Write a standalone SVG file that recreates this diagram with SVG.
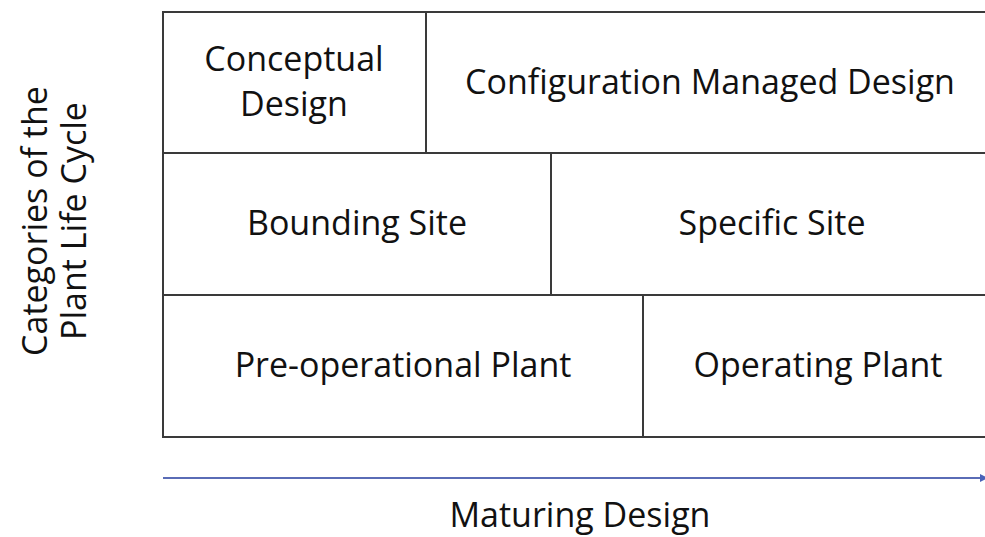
<svg xmlns="http://www.w3.org/2000/svg" width="985" height="537" viewBox="0 0 985 537">
  <style>
    .cell { fill: #ffffff; stroke: #3a3a3a; stroke-width: 2; }
    .lbl { font-family: "Open Sans", "Liberation Sans", sans-serif; font-size: 34px; fill: #111111; text-anchor: middle; }
    .axis { font-family: "Open Sans", "Liberation Sans", sans-serif; font-size: 34px; fill: #111111; text-anchor: middle; }
  </style>
  <defs>
    <marker id="arrowHead" markerWidth="8" markerHeight="8" refX="6" refY="4" orient="auto" markerUnits="userSpaceOnUse">
      <path d="M0,0 L8,4 L0,8 Z" fill="#4a62b8"/>
    </marker>
  </defs>
  <rect width="985" height="537" fill="#ffffff"/>

  <!-- y-axis title -->
  <g id="axis-y">
    <text class="axis" transform="translate(47,221) rotate(-90)">Categories of the</text>
    <text class="axis" transform="translate(86,221) rotate(-90)">Plant Life Cycle</text>
  </g>

  <!-- row 1 -->
  <g id="conceptual-design">
    <rect class="cell" x="163" y="12" width="263" height="141"/>
    <text class="lbl" x="294" y="71">Conceptual</text>
    <text class="lbl" x="294" y="116">Design</text>
  </g>
  <g id="configuration-managed-design">
    <rect class="cell" x="426" y="12" width="565" height="141"/>
    <text class="lbl" x="710" y="94">Configuration Managed Design</text>
  </g>

  <!-- row 2 -->
  <g id="bounding-site">
    <rect class="cell" x="163" y="153" width="388" height="142"/>
    <text class="lbl" x="357" y="235">Bounding Site</text>
  </g>
  <g id="specific-site">
    <rect class="cell" x="551" y="153" width="440" height="142"/>
    <text class="lbl" x="772" y="235">Specific Site</text>
  </g>

  <!-- row 3 -->
  <g id="pre-operational-plant">
    <rect class="cell" x="163" y="295" width="480" height="142"/>
    <text class="lbl" x="403" y="377">Pre-operational Plant</text>
  </g>
  <g id="operating-plant">
    <rect class="cell" x="643" y="295" width="348" height="142"/>
    <text class="lbl" x="818" y="377">Operating Plant</text>
  </g>

  <!-- design maturity axis -->
  <g id="connectors">
    <line x1="163" y1="478" x2="986" y2="478" stroke="#5a6cb6" stroke-width="2" marker-end="url(#arrowHead)"/>
  </g>
  <g id="axis-x">
    <text class="axis" x="580" y="527">Maturing Design</text>
  </g>
</svg>
